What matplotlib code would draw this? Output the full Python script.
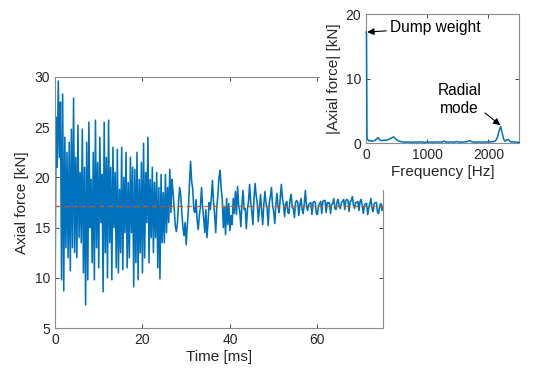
import numpy as np
import matplotlib
matplotlib.use("Agg")
import matplotlib.pyplot as plt
from matplotlib.patches import Rectangle

plt.rcParams['font.family'] = ['Liberation Sans', 'DejaVu Sans']

# ---------------- data ----------------
time_step_ms = 0.25
force_kN = [
    # 0-5 ms
    7.0, 26, 21, 29.6, 22, 27.5, 9.8, 28.3, 8.7, 24, 13, 22.5, 12, 23.5, 10.7, 24.8, 13, 27.9, 12.5, 22,
    # 5-10 ms
    12, 25.2, 14, 20.5, 13.5, 24.8, 10.5, 21, 7.3, 23.5, 9.8, 25.5, 15, 19.8, 11.5, 22.5, 9.8, 25.7, 13, 21.5,
    # 10-15 ms
    11, 24, 15.5, 20.3, 8.6, 25.5, 12.5, 22, 10, 25.7, 13.5, 21, 9.8, 23, 15, 20.5, 11, 22.8, 10.5, 18.8,
    # 15-20 ms
    12.5, 23, 10.8, 20, 14.5, 22.5, 11, 19.5, 12, 22, 14.5, 21, 9.1, 20.8, 11.5, 22.5, 9.8, 19.8, 12.5, 21.5,
    # 20-25 ms
    10.5, 23.4, 12, 20.5, 15.5, 24.0, 11.5, 19.8, 14, 21, 12.5, 19.5, 14, 20.5, 11, 19, 9.9, 20.3, 13.5, 18.5,
    # 25-30 ms
    13.5, 20.3, 14.5, 19, 15.5, 20.8, 16.5, 19.8, 18.5, 17, 15.2, 14.6, 15.5, 17.5, 19, 18.2, 16.5, 15, 14.2, 15.5,
    # 30-35 ms
    13.3, 15.2, 16.8, 19.4, 21.6, 19.6, 18.8, 16.7, 16.5, 17.8, 15.7, 14.8, 16.2, 17.0, 19.0, 17.1, 15.9, 14.5, 16.8, 14.0,
    # 35-40 ms
    15.6, 17.5, 16.8, 18.0, 19.7, 17.5, 16.3, 14.5, 17.1, 18.2, 20.0, 20.7, 18.9, 17.8, 15.0, 17.1, 14.3, 17.9, 15.3, 17.4,
    # 40-45 ms
    14.7, 16.2, 15.3, 17.9, 16.4, 18.6, 16.3, 19.1, 17.2, 16.6, 15.1, 17.4, 18.7, 16.8, 16.9, 14.9, 16.8, 17.6, 19.3, 17.5,
    # 45-50 ms
    16.6, 15.3, 17.9, 19.4, 18.2, 17.4, 15.6, 17.0, 18.3, 16.7, 15.3, 17.3, 18.6, 17.4, 16.9, 15.2, 17.5, 18.1, 19.0, 17.2,
    # 50-55 ms
    16.6, 15.4, 17.3, 18.4, 17.1, 16.5, 17.9, 19.3, 17.9, 17.3, 16.1, 17.4, 17.6, 16.5, 16.4, 17.8, 18.3, 17.0, 16.9, 16.0,
    # 55-60 ms
    17.5, 17.7, 17.5, 16.2, 17.3, 17.9, 16.8, 16.4, 17.4, 18.7, 17.2, 16.7, 17.3, 17.4, 17.5, 16.3, 17.5, 17.6, 17.5, 16.4,
    # 60-65 ms
    16.3, 17.2, 17.4, 17.6, 16.4, 17.6, 17.7, 17.7, 16.5, 17.5, 17.4, 17.5, 16.4, 17.3, 17.4, 17.9, 16.9, 16.8, 17.6, 17.8,
    # 65-70 ms
    17.1, 16.9, 17.5, 17.6, 17.8, 16.8, 17.7, 17.8, 17.7, 16.6, 17.6, 17.7, 18.1, 17.2, 16.9, 17.5, 17.5, 17.6, 16.7, 17.6,
    # 70-75 ms
    17.8, 17.2, 16.4, 17.2, 17.4, 17.4, 16.3, 17.0, 17.4, 17.9, 16.9, 16.6, 17.4, 17.5, 17.5, 16.5, 16.4, 17.2, 17.4, 16.7, 17.2,
]
mean_force_kN = 17.2

freq_Hz = [0, 8, 16, 25, 50, 75, 100, 125, 150, 175, 200, 225, 250, 275, 300, 325, 350, 375, 400,
           425, 450, 475, 500, 525, 550, 575, 600, 650, 700, 750, 800, 850, 900, 950, 1000,
           1050, 1100, 1150, 1200, 1250, 1275, 1300, 1350, 1400, 1450, 1475, 1500, 1550, 1600,
           1650, 1675, 1700, 1725, 1750, 1800, 1850, 1900, 1950, 2000, 2050, 2100, 2125, 2150,
           2175, 2200, 2225, 2250, 2275, 2300, 2325, 2350, 2375, 2400, 2450, 2500]
amp_kN = [17.2, 17.0, 1.0, 0.6, 0.35, 0.45, 0.3, 0.4, 0.45, 0.7, 0.9, 0.5, 0.4, 0.45, 0.5, 0.45, 0.55, 0.6, 0.75,
          0.85, 1.0, 0.8, 0.55, 0.4, 0.3, 0.25, 0.2, 0.18, 0.2, 0.15, 0.2, 0.17, 0.22, 0.15, 0.18,
          0.2, 0.15, 0.22, 0.18, 0.2, 0.35, 0.2, 0.18, 0.2, 0.17, 0.3, 0.2, 0.18, 0.2,
          0.25, 0.35, 0.4, 0.25, 0.2, 0.18, 0.2, 0.17, 0.2, 0.2, 0.22, 0.3, 0.5, 1.0,
          1.9, 2.6, 1.6, 0.6, 0.3, 0.55, 0.6, 0.3, 0.2, 0.22, 0.18, 0.15]

# ---------------- plot ----------------
blue = '#0072BD'
orange = '#D95319'
axcol = '#262626'
spinecol = '#8c8c8c'

fig = plt.figure(figsize=(5.4, 3.72), dpi=100)

t = np.arange(len(force_kN)) * time_step_ms

ax = fig.add_axes([55/540, 44/372, 328/540, 251/372])
ax.plot(t, force_kN, color=blue, lw=1.15)
ax.axhline(mean_force_kN, color=orange, lw=0.9, ls=(0, (4, 3)))
ax.set_xlim(0, 75)
ax.set_ylim(5, 30)
ax.set_xticks([0, 20, 40, 60])
ax.set_yticks([5, 10, 15, 20, 25, 30])
ax.set_xlabel('Time [ms]', fontsize=11, color=axcol, labelpad=2)
ax.set_ylabel('Axial force [kN]', fontsize=11, color=axcol, labelpad=4)
ax.tick_params(direction='in', length=3, labelsize=10, colors=axcol, top=True, right=True,
               labeltop=False, labelright=False, width=0.6)
for s in ax.spines.values():
    s.set_color(spinecol)
    s.set_linewidth(0.8)

# white backdrop for the inset
bg = Rectangle((320/540, (372-190)/372), (540-320)/540, 190/372, transform=fig.transFigure,
               facecolor='white', edgecolor='none', zorder=1)
fig.patches.append(bg)

ins = fig.add_axes([366/540, (372-143.3)/372, 153/540, 129.3/372])
ins.set_zorder(2)
ins.plot(freq_Hz, amp_kN, color=blue, lw=1.1, zorder=5, clip_on=False)
ins.set_xlim(0, 2500)
ins.set_ylim(0, 20)
ins.set_xticks([0, 1000, 2000])
ins.set_yticks([0, 10, 20])
ins.set_xlabel('Frequency [Hz]', fontsize=11, color=axcol, labelpad=2)
ins.set_ylabel('|Axial force| [kN]', fontsize=11, color=axcol, labelpad=3)
ins.tick_params(direction='in', length=3, labelsize=10, colors=axcol, top=True, right=True,
                labeltop=False, labelright=False, width=0.6)
for s in ins.spines.values():
    s.set_color(spinecol)
    s.set_linewidth(0.8)

ins.annotate('Dump weight', xy=(20, 17.2), xytext=(400, 17.9), fontsize=11.2, color='black',
             va='center', ha='left',
             arrowprops=dict(arrowstyle='-|>', color='black', lw=0.8, mutation_scale=10,
                             shrinkA=1, shrinkB=0))
ins.text(1530, 6.85, 'Radial\nmode', fontsize=11.2, color='black', va='center', ha='center',
         linespacing=1.25)
ins.annotate('', xy=(2195, 2.8), xytext=(1944, 4.7),
             arrowprops=dict(arrowstyle='-|>', color='black', lw=0.8, mutation_scale=10,
                             shrinkA=0, shrinkB=0))

fig.savefig('out.png', dpi=100)
